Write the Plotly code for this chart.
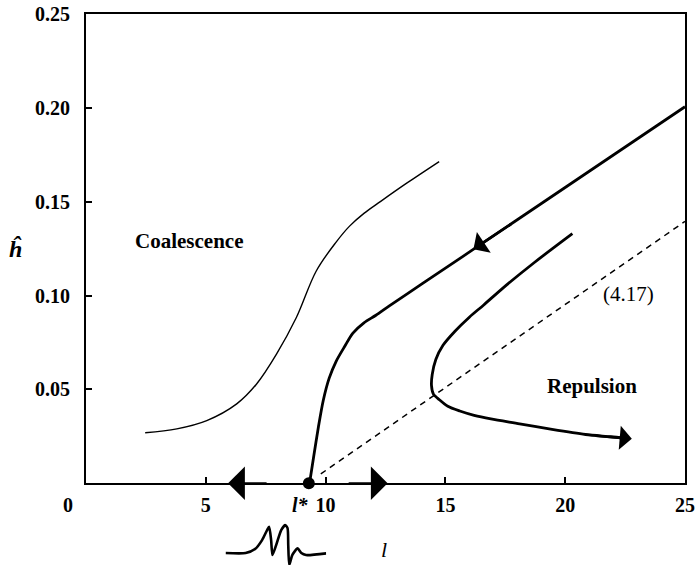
import plotly.graph_objects as go

# ---- data ----
thin_l = [2.47, 3.79, 5.04, 6.29, 7.12, 7.95, 8.78, 9.61, 10.44, 11.0, 11.6, 12.3, 13.4, 14.74]
thin_h = [0.0269, 0.0290, 0.0334, 0.0423, 0.0529, 0.0688, 0.0883, 0.1131, 0.1285, 0.1370, 0.1438, 0.1502, 0.1600, 0.1714]

mid_l = [9.33, 9.50, 9.70, 9.90, 10.15, 10.44, 10.80, 11.14, 11.60, 12.10, 12.66, 14.05, 16.50, 25.0]
mid_h = [0.0, 0.014, 0.030, 0.044, 0.056, 0.065, 0.073, 0.080, 0.0855, 0.0895, 0.0945, 0.1065, 0.1275, 0.2006]

rep_l = [20.3, 18.7, 17.4, 16.6, 16.0, 15.4, 14.9, 14.6, 14.45, 14.42, 14.5, 14.75, 15.1, 15.6, 16.2, 16.9, 18.1, 19.45, 20.85, 21.9, 22.5]
rep_h = [0.133, 0.1175, 0.104, 0.095, 0.0885, 0.081, 0.0735, 0.066, 0.058, 0.052, 0.0475, 0.0445, 0.041, 0.0385, 0.0362, 0.0343, 0.0317, 0.0287, 0.026, 0.0248, 0.0240]

dash_l = [9.8, 25.0]
dash_h = [0.005, 0.1395]

lstar = 9.3
# arrow heads: (tail, tip) pairs along curves / axis
arrow_mid = [(17.8, 0.1386), (16.17, 0.1247)]
arrow_rep = [(21.2, 0.0254), (22.78, 0.0237)]
arrow_axis_left = [(7.6, 0.0), (5.93, 0.0)]
arrow_axis_right = [(10.9, 0.0), (12.59, 0.0)]

wave_x = [0, 20, 29.3, 36.3, 41.3, 43.3, 45.3, 46.6, 50.3, 55.3, 59.3, 61.6, 62.3, 63.3, 66.3, 71.6, 75.3, 80, 100]
wave_y = [0, 0, 4, 13, 23, 26.3, 13, -2, 8, 23, 28, 25, 8, -12, -2, 4.7, 0, -2, -0.3]

x_tickvals = [5, 10, 15, 20, 25]
x_ticktext = ["5", "10", "15", "20", "25"]
y_tickvals = [0.05, 0.10, 0.15, 0.20, 0.25]
y_ticktext = ["0.05", "0.10", "0.15", "0.20", "0.25"]

SERIF = "Liberation Serif, Times New Roman, serif"
FS = 20
FL = 21

fig = go.Figure()
fig.add_trace(go.Scatter(x=thin_l, y=thin_h, mode="lines", line=dict(color="black", width=1.4, shape="spline"), showlegend=False))
fig.add_trace(go.Scatter(x=mid_l, y=mid_h, mode="lines", line=dict(color="black", width=2.8, shape="spline", smoothing=0.8), showlegend=False))
fig.add_trace(go.Scatter(x=rep_l, y=rep_h, mode="lines", line=dict(color="black", width=2.8, shape="spline", smoothing=0.8), showlegend=False))
fig.add_trace(go.Scatter(x=dash_l, y=dash_h, mode="lines", line=dict(color="black", width=1.5, dash="6px,5px"), showlegend=False))

fig.add_trace(go.Scatter(x=[lstar], y=[0], mode="markers",
                         marker=dict(symbol="circle", size=12, color="black"),
                         showlegend=False, cliponaxis=False))

# wave glyph
fig.add_trace(go.Scatter(x=wave_x, y=wave_y, mode="lines", xaxis="x2", yaxis="y2",
                         line=dict(color="black", width=2.6, shape="spline", smoothing=0.6), showlegend=False))

H = 568
mb, mt = 3, 12
plot_h = H - mb - mt
ydom0 = (H - mb - 483) / plot_h

fig.update_layout(
    width=698, height=568,
    margin=dict(l=86, r=11, t=mt, b=mb),
    plot_bgcolor="white", paper_bgcolor="white",
    xaxis=dict(range=[0, 25], domain=[0, 1], showline=True, mirror=True, linecolor="black", linewidth=2,
               ticks="inside", ticklen=6, tickwidth=2, tickcolor="black",
               tickvals=x_tickvals, ticktext=x_ticktext, showgrid=False, zeroline=False,
               tickfont=dict(family=SERIF, size=FS, color="black", weight="bold"), ticklabelstandoff=3),
    yaxis=dict(range=[0, 0.25], domain=[ydom0, 1], showline=True, mirror=True, linecolor="black", linewidth=2,
               ticks="inside", ticklen=6, tickwidth=2, tickcolor="black",
               tickvals=y_tickvals, ticktext=y_ticktext, showgrid=False, zeroline=False,
               tickfont=dict(family=SERIF, size=FS, color="black", weight="bold"), ticklabelstandoff=10),
    xaxis2=dict(range=[0, 100], domain=[(226 - 86) / 601, (327 - 86) / 601], anchor="y2", visible=False),
    yaxis2=dict(range=[-12, 30], domain=[0, 42 / plot_h], anchor="x2", visible=False),
)

def arrow(pair, width, size):
    (tl, th), (hl, hh) = pair
    fig.add_annotation(x=hl, y=hh, ax=tl, ay=th, xref="x", yref="y", axref="x", ayref="y",
                       text="", showarrow=True, arrowhead=1, arrowwidth=width, arrowsize=size,
                       arrowcolor="black", standoff=0, startstandoff=0)

arrow(arrow_mid, 2.6, 1.6)
arrow(arrow_rep, 2.6, 1.55)
arrow(arrow_axis_left, 2.0, 2.8)
arrow(arrow_axis_right, 2.0, 2.8)

def ann(text, x, y, xref="x", yref="y", italic=False, bold=True, size=FL):
    fig.add_annotation(text=text, x=x, y=y, xref=xref, yref=yref, showarrow=False,
                       xanchor="center", yanchor="middle",
                       font=dict(family=SERIF, size=size, color="black",
                                 weight="bold" if bold else "normal", style="italic" if italic else "normal"))

ytick_row = (H - mb - 505) / plot_h
ann("Coalescence", 4.28, 0.129)
ann("Repulsion", 21.1, 0.052)
ann("(4.17)", 22.63, 0.1007, bold=False)
ann("0", (68 - 86) / 601, ytick_row, xref="paper", yref="paper", size=FS)
ann("l*", 8.95, ytick_row, yref="paper", italic=True, size=FS)
ann("l", 12.44, (H - mb - 549) / plot_h, yref="paper", italic=True, bold=False, size=22)
ann("ĥ", (15 - 86) / 601, 0.125, xref="paper", italic=True, size=24)

fig.write_html("out.html")
